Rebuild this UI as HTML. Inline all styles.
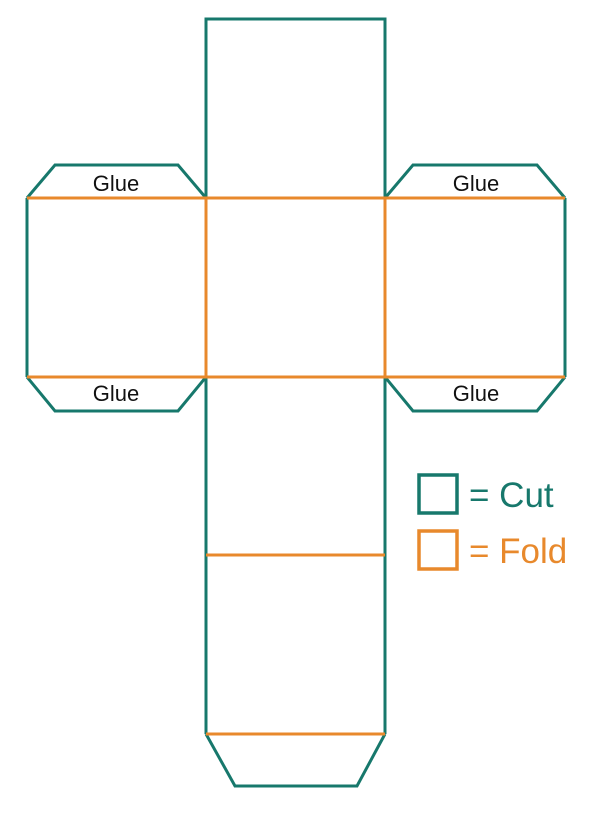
<!DOCTYPE html>
<html><head><meta charset="utf-8"><style>
html,body{margin:0;padding:0;background:#fff;}
svg{display:block;}
text{font-family:"Liberation Sans",sans-serif;}
</style></head><body>
<svg width="590" height="813" viewBox="0 0 590 813">
<g fill="none" stroke="#17786c" stroke-width="3" stroke-linejoin="miter">
  <path d="M206,198 L206,19 L385,19 L385,198 M206,377 L206,734 M385,377 L385,734"/>
  <path d="M206,734 L235,786 L357,786 L385,734"/>
  <path d="M27,198 L27,377"/>
  <path d="M27,198 L55,165 L178,165 L206,198"/>
  <path d="M27,377 L55,411 L178,411 L206,377"/>
  <path d="M565,198 L565,377"/>
  <path d="M385,198 L413,165 L537,165 L565,198"/>
  <path d="M385,377 L413,411 L537,411 L565,377"/>
</g>
<g fill="none" stroke="#e8892c" stroke-width="3">
  <path d="M27,198 L565,198"/>
  <path d="M27,377 L565,377"/>
  <path d="M206,198 L206,377 M385,198 L385,377"/>
  <path d="M206,555 L385,555"/>
  <path d="M206,734 L385,734"/>
</g>
<g font-size="22" fill="#111" text-anchor="middle">
  <text x="116" y="191">Glue</text>
  <text x="116" y="401">Glue</text>
  <text x="476" y="191">Glue</text>
  <text x="476" y="401">Glue</text>
</g>
<g>
  <rect x="419" y="475" width="38" height="38" fill="none" stroke="#17786c" stroke-width="3.5"/>
  <text x="469" y="507" font-size="35" fill="#17786c">= Cut</text>
  <rect x="419" y="531" width="38" height="38" fill="none" stroke="#e8892c" stroke-width="3.5"/>
  <text x="469" y="563" font-size="35" fill="#e8892c">= Fold</text>
</g>
</svg>
</body></html>
